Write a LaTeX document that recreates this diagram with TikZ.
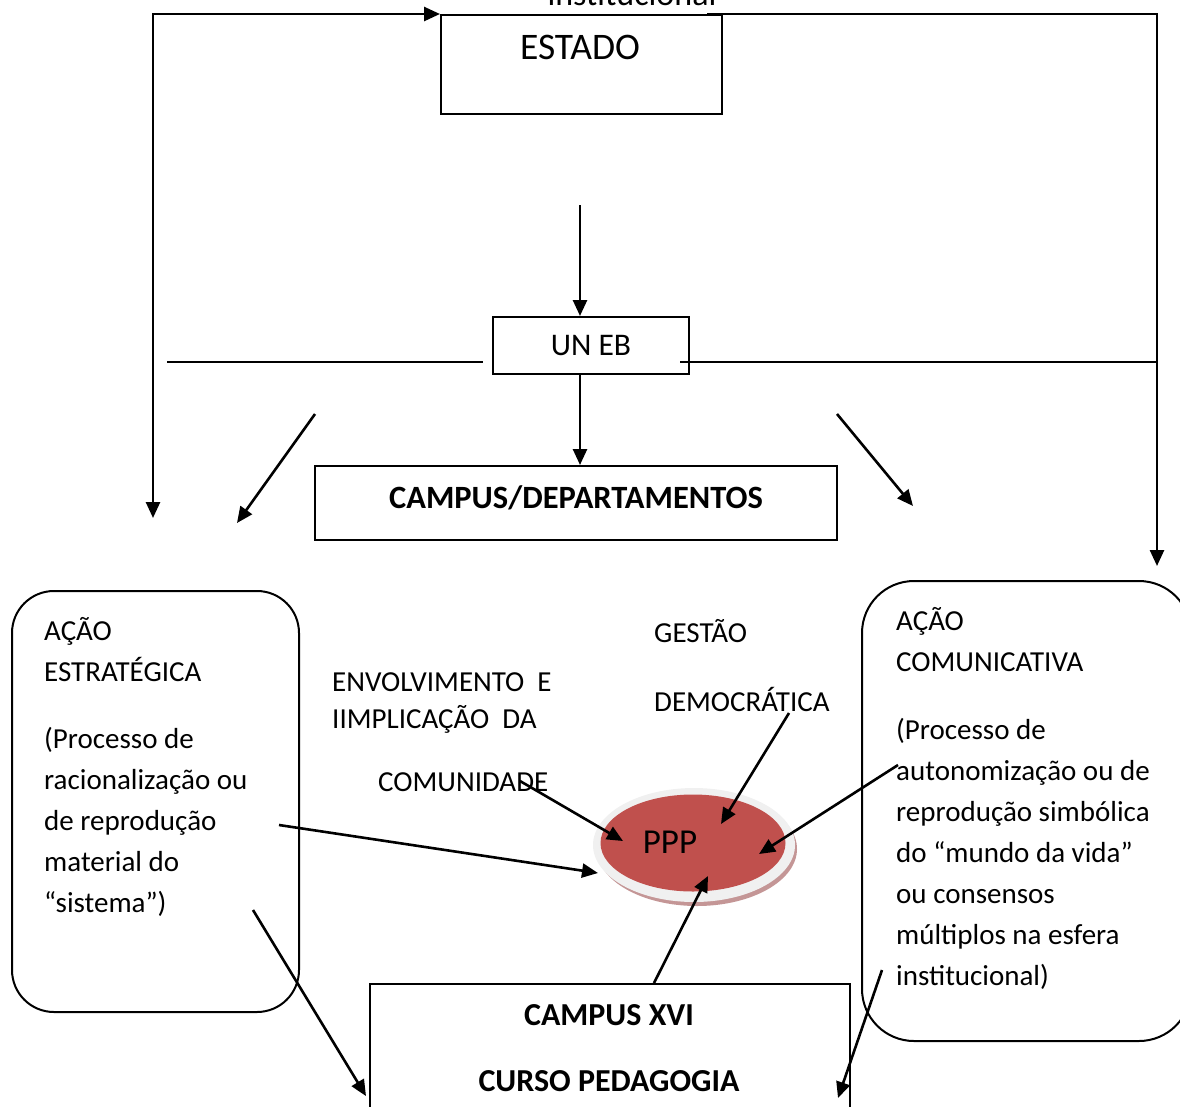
\documentclass[tikz,border=0pt]{standalone}
\usepackage{fontspec}
\setmainfont{Carlito}
\usetikzlibrary{arrows.meta,shapes.geometric}
\definecolor{pppred}{RGB}{192,80,77}
\definecolor{ppprim}{RGB}{240,240,240}
\definecolor{pppshadow}{RGB}{196,150,150}
\newcommand\myfs[2]{\fontsize{#1}{#2}\selectfont}
\begin{document}
\begin{tikzpicture}[x=1pt,y=-1pt,
  box/.style={draw,line width=2pt,inner sep=0pt},
  arr/.style={line width=2.6pt,-{Triangle[length=16pt,width=14pt]}},
  plain/.style={line width=2pt},
  txt/.style={inner sep=0pt,font=\myfs{29}{41}},
  bodytxt/.style={inner sep=0pt,anchor=north west,align=left,font=\myfs{29}{41}},
  rbox/.style={draw,line width=2pt,inner sep=0pt,anchor=north west}]
\useasboundingbox (0,0) rectangle (1180,1106);

% top label (clipped at the top edge, as in the reference)
\node[inner sep=0pt,anchor=base,font=\myfs{34}{40}] (instT) at (632,5) {institucional};

% ESTADO
\node[box,anchor=north west,minimum width=281pt,minimum height=99pt] (estado) at (440,14) {};
\node[inner sep=0pt,font=\myfs{37.5}{42}] (estadoT) at (580,47) {ESTADO};

% UN EB
\node[box,minimum width=196pt,minimum height=57pt,font=\myfs{31.5}{36}] (uneb) at (591,345.5) {UN EB};

% CAMPUS/DEPARTAMENTOS
\node[box,minimum width=522pt,minimum height=74pt,text height=22pt,text depth=12pt,font=\myfs{32.5}{36}\bfseries] (campus) at (576,503) {CAMPUS/DEPARTAMENTOS};

% rounded boxes
\node[rbox,rounded corners=42pt,minimum width=287pt,minimum height=421pt] (strat) at (11,590) {};
\node[rbox,rounded corners=52pt,minimum width=329pt,minimum height=460pt] (comm) at (861,580) {};

\node[bodytxt] (stratT) at (44,614) {\rule{0pt}{26pt}AÇÃO\\ESTRATÉGICA\\[26pt](Processo de\\racionalização ou\\de reprodução\\material do\\“sistema”)};
\node[bodytxt] (commT) at (896,604) {\rule{0pt}{26pt}AÇÃO\\COMUNICATIVA\\[27pt](Processo de\\autonomização ou de\\reprodução simbólica\\do “mundo da vida”\\ou consensos\\múltiplos na esfera\\institucional)};

% middle labels
\node[txt,anchor=base west] (gest) at (654,642) {GESTÃO};
\node[txt,anchor=base west] (demo) at (654,711) {DEMOCRÁTICA};
\node[txt,anchor=base west] (envo) at (332,691) {ENVOLVIMENTO\ \ E};
\node[txt,anchor=base west] (impl) at (332,728) {IIMPLICAÇÃO\ \ DA};
\node[txt,anchor=base west] (comu) at (378,791) {COMUNIDADE};

% PPP
\fill[pppshadow] (697,849) ellipse [x radius=100pt,y radius=57pt];
\fill[ppprim] (694,845) ellipse [x radius=101pt,y radius=57pt];
\node[ellipse,fill=pppred,minimum width=185pt,minimum height=97pt,inner sep=0pt] (ppp) at (693,843) {};
\node[inner sep=0pt,font=\myfs{35}{40}] (pppT) at (670,842) {PPP};

% CAMPUS XVI
\node[box,anchor=north west,minimum width=480pt,minimum height=150pt] (xvi) at (369,983) {};
\node[inner sep=0pt,anchor=base,font=\myfs{32}{36}\bfseries] (xviA) at (609,1025) {CAMPUS XVI};
\node[inner sep=0pt,anchor=base,font=\myfs{32}{36}\bfseries] (xviB) at (609,1091) {CURSO PEDAGOGIA};

% coordinates
\coordinate (lfoot) at (153,518);
\coordinate (estR) at (707,14);
\coordinate (rfoot) at (1157,566);
\coordinate (vin) at (580,205);
\coordinate (hlA) at (167,362);
\coordinate (hlB) at (483,362);
\coordinate (hlC) at (680,362);
\coordinate (hlD) at (1157,362);
\coordinate (d1s) at (315,414);
\coordinate (d1e) at (237,523);
\coordinate (d2s) at (837,414);
\coordinate (d2e) at (913,506);
\coordinate (c1) at (520,781);
\coordinate (p1) at (623,841);
\coordinate (g1) at (789,713);
\coordinate (p2) at (721,824);
\coordinate (a1) at (898,765);
\coordinate (p3) at (759,854);
\coordinate (s1) at (279,825);
\coordinate (p4) at (598,873);
\coordinate (x1) at (654,983);
\coordinate (p5) at (708,876);
\coordinate (b1s) at (253,910);
\coordinate (b1e) at (366,1096);
\coordinate (b2s) at (882,970);
\coordinate (b2e) at (838,1098);

% connectors
\draw[line width=2.6pt,{Triangle[length=16pt,width=14pt]}-{Triangle[length=16pt,width=14pt]}] (lfoot) |- (estado.north west);
\draw[arr] (estR) -| (rfoot);
\draw[arr] (vin) -- (vin |- uneb.north);
\draw[arr] (vin |- uneb.south) -- (vin |- campus.north);
\draw[plain] (hlA) -- (hlB);
\draw[plain] (hlC) -- (hlD);
\draw[arr] (d1s) -- (d1e);
\draw[arr] (d2s) -- (d2e);
\draw[arr] (c1) -- (p1);
\draw[arr] (g1) -- (p2);
\draw[arr] (a1) -- (p3);
\draw[arr] (s1) -- (p4);
\draw[arr] (x1) -- (p5);
\draw[arr] (b1s) -- (b1e);
\draw[arr] (b2s) -- (b2e);
\end{tikzpicture}
\end{document}
